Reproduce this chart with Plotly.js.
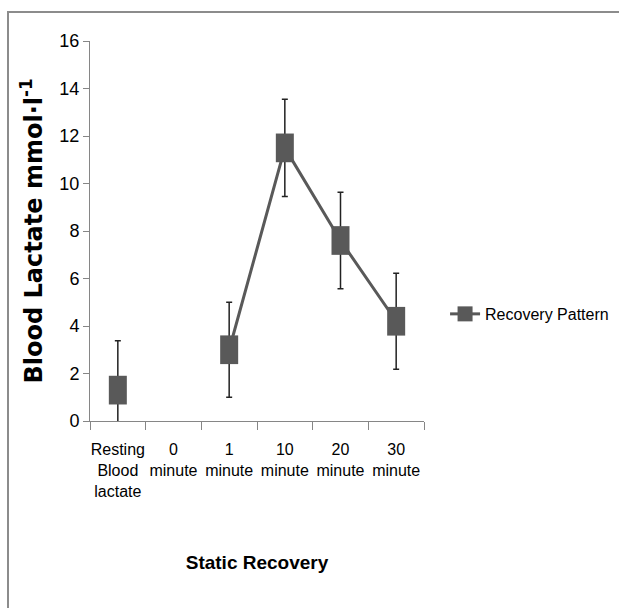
<!DOCTYPE html>
<html>
<head>
<meta charset="utf-8">
<script src="https://cdn.plot.ly/plotly-3.0.1.min.js"></script>
<style>
html,body{margin:0;padding:0;background:#fff;}
#wrap{position:relative;width:619px;height:608px;}
#chart{width:619px;height:608px;}
#frame{position:absolute;left:7px;top:11px;right:0;bottom:0;border-left:2px solid #8c8c8c;border-top:2px solid #8c8c8c;pointer-events:none;}
</style>
</head>
<body>
<div id="wrap"><div id="chart"></div><div id="frame"></div></div>
<script>
const categories = ["Resting<br>Blood<br>lactate", "0<br>minute", "1<br>minute", "10<br>minute", "20<br>minute", "30<br>minute"];
const lactate = [1.3, null, 3.0, 11.5, 7.6, 4.2];
const lactateSD = [2.08, null, 2.0, 2.05, 2.03, 2.02];
const seriesName = "Recovery Pattern";
const yTicks = [0, 2, 4, 6, 8, 10, 12, 14, 16];

const grey = "#595959";
const sans = "Liberation Sans, Arial, sans-serif";

const main = {
  type: "scatter",
  mode: "lines+markers",
  x: categories,
  y: lactate,
  name: seriesName,
  showlegend: false,
  line: {color: grey, width: 3},
  marker: {symbol: "line-ns", size: 20.5, color: grey, line: {color: grey, width: 18}},
  error_y: {type: "data", array: lactateSD, visible: true, color: "#222", thickness: 1.5, width: 3}
};
const legendTrace = {
  type: "scatter",
  mode: "lines+markers",
  x: [categories[1]], y: [null],
  name: seriesName,
  showlegend: true,
  line: {color: grey, width: 3},
  marker: {symbol: "square", size: 15, color: grey}
};

const layout = {
  width: 619, height: 608,
  margin: {l: 90, r: 195, t: 41, b: 187},
  paper_bgcolor: "#fff", plot_bgcolor: "#fff",
  showlegend: true,
  legend: {xref: "container", yref: "container", x: 0.719, y: 0.4836, xanchor: "left", yanchor: "middle",
           font: {family: sans, size: 16, color: "#000"}, bgcolor: "rgba(0,0,0,0)"},
  xaxis: {
    type: "category",
    range: [-0.5, 5.5],
    tickangle: 0,
    showline: true, linecolor: "#868686", linewidth: 1,
    ticks: "outside", tickson: "boundaries", ticklen: 8, tickcolor: "#868686",
    ticklabelstandoff: 14,
    showgrid: false, zeroline: false,
    tickfont: {family: sans, size: 16, color: "#000"},
    title: {text: "Static Recovery", font: {family: sans, size: 19, color: "#000", weight: "bold"}, standoff: 56}
  },
  yaxis: {
    range: [0, 16],
    tickvals: yTicks,
    showline: true, linecolor: "#868686", linewidth: 1,
    ticks: "outside", ticklen: 6, tickcolor: "#868686",
    showgrid: false, zeroline: false,
    tickfont: {family: sans, size: 18, color: "#000"},
    title: {text: "Blood Lactate mmol·l<sup>-1</sup>", font: {family: "DejaVu Sans, sans-serif", size: 24, color: "#000", weight: "bold"}, standoff: 9}
  }
};

Plotly.newPlot("chart", [main, legendTrace], layout, {displayModeBar: false, staticPlot: true});
</script>
</body>
</html>
